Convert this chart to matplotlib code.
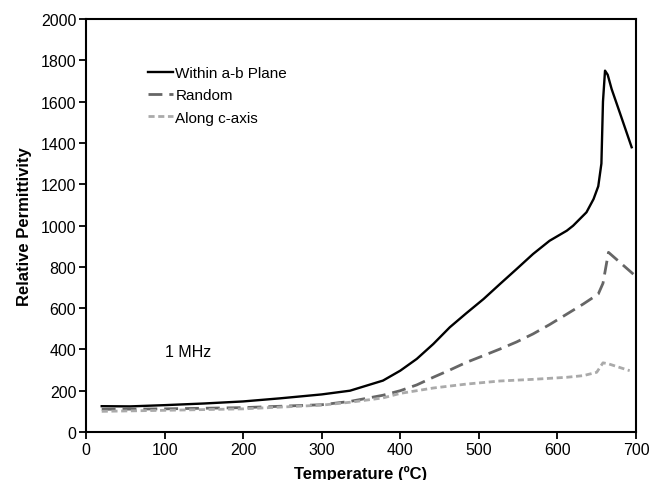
import numpy as np
import matplotlib.pyplot as plt

plt.rcParams['font.family'] = ['Liberation Sans', 'DejaVu Sans']

# Within a-b plane (solid black)
t_ab = [20, 56, 100, 150, 200, 247, 300, 336, 378, 400, 421, 442, 463, 484, 506, 527, 548, 569, 590,
        612, 620, 637, 646, 652, 656, 658, 660.6, 664, 669, 680, 694.5]
e_ab = [125, 124, 130, 138, 148, 163, 182, 200, 249, 297, 354, 426, 507, 575, 644, 717, 789, 862, 926,
        975, 999, 1064, 1128, 1190, 1300, 1600, 1750, 1730, 1661, 1540, 1379]

# Random (long dashes)
t_rand = [20, 100, 200, 300, 336, 378, 400, 421, 442, 463, 484, 506, 527, 548, 569, 590, 612, 633,
          652, 658, 665, 680, 698]
e_rand = [110, 112, 118, 132, 148, 178, 200, 228, 265, 300, 337, 370, 402, 436, 475, 520, 571, 620,
          668, 720, 870, 820, 760]

# Along c-axis (short dashes)
t_c = [20, 100, 200, 300, 336, 378, 400, 442, 484, 527, 569, 612, 633, 650, 658, 665, 692]
e_c = [100, 105, 112, 130, 144, 165, 187, 213, 232, 247, 255, 265, 273, 289, 335, 330, 297]

fig = plt.figure(figsize=(6.6, 4.81), dpi=100)
ax = fig.add_axes([0.1303, 0.0998, 0.8333, 0.8586])

ax.plot(t_ab, e_ab, color='black', lw=1.7, label='Within a-b Plane')
ax.plot(t_rand, e_rand, color='#666666', lw=2, dashes=(5, 2.5), label='Random')
ax.plot(t_c, e_c, color='#aaaaaa', lw=2, dashes=(2.2, 1.3), label='Along c-axis')

ax.set_xlim(0, 700)
ax.set_ylim(0, 2000)
ax.set_xticks(np.arange(0, 701, 100))
ax.set_yticks(np.arange(0, 2001, 200))
ax.tick_params(direction='out', length=5, width=1.3, labelsize=11.5, pad=2)
for s in ax.spines.values():
    s.set_linewidth(1.5)

ax.set_xlabel('Temperature (ºC)', fontsize=12, fontweight='bold', labelpad=6)
ax.set_ylabel('Relative Permittivity', fontsize=12, fontweight='bold', labelpad=6)

ax.text(100, 388, '1 MHz', fontsize=11.5, ha='left', va='center')

ax.legend(loc='upper left', bbox_to_anchor=(0.113, 0.886), frameon=False,
          fontsize=11, borderpad=0, borderaxespad=0, handlelength=1.63,
          handletextpad=0.15, labelspacing=0.54)

fig.savefig('out.png', dpi=100)
